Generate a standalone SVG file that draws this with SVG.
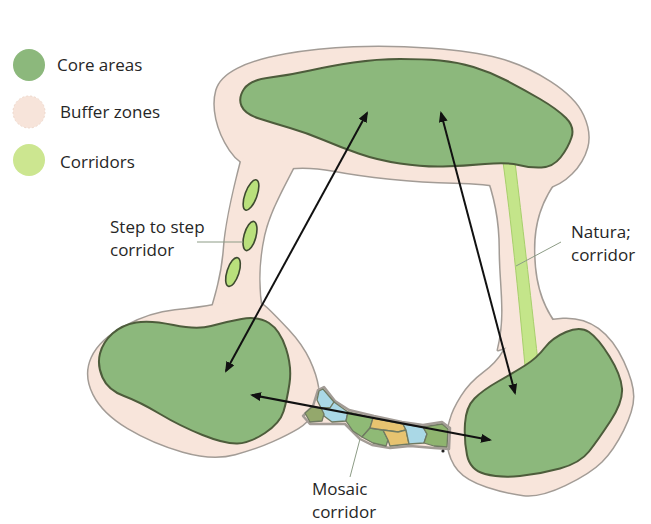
<svg xmlns="http://www.w3.org/2000/svg" width="651" height="524" viewBox="0 0 651 524">
<style>
.buf-s{fill:none;stroke:#a39c96;stroke-width:3;stroke-linejoin:round}
.buf-f{fill:#f8e5db;stroke:none}
.core{fill:#8cb87c;stroke:#4d5c3b;stroke-width:2;stroke-linejoin:round}
.oval{fill:#b9e07c;stroke:#3e4a30;stroke-width:1.6}
.cell{stroke:#6f7a62;stroke-width:1.3;stroke-linejoin:round}
.lbl{font-family:"Open Sans","DejaVu Sans",sans-serif;font-size:17px;fill:#262626}
.lead{stroke:#8d9c86;stroke-width:1;fill:none}
.conn{stroke:#111111;stroke-width:2;fill:none;marker-start:url(#ah);marker-end:url(#ah)}
</style>
<defs>
<marker id="ah" viewBox="0 0 11 9" refX="9" refY="4.5" markerWidth="11" markerHeight="9" markerUnits="userSpaceOnUse" orient="auto-start-reverse">
<path d="M0,0 L11,4.5 L0,9 Z" fill="#111111"/>
</marker>
<path id="bufTop" d="M 216.5,90.5 Q 220,78 237.5,69 Q 255,60 286,54.5 Q 317,49 353.5,47.5 Q 390,46 431.5,49 Q 473,52 499,59 Q 525,66 550,82 Q 575,98 583,115.5 Q 591,133 587,147.5 Q 583,162 571.5,173.5 Q 560,185 545,188.5 Q 530,192 507.5,187.5 Q 485,183 454,182.5 Q 423,182 390,178.5 Q 357,175 333.5,170.5 Q 310,166 290,168 Q 270,170 255,167.5 Q 240,165 230,150 Q 220,135 216.5,119 Q 213,103 216.5,90.5 Z"/>
<path id="bufStep" d="M 242,158 C 235,185 226,220 224,250 C 222,275 216,295 210,315 L 262,312 C 258,290 258,262 264,235 C 270,210 282,190 296,162 Z"/>
<path id="bufLeft" d="M 215,305 Q 230,302 244,301 Q 258,300 266.5,308 Q 275,316 288.5,330.5 Q 302,345 309,360 Q 316,375 318,388 Q 320,398 315,410 Q 308,422 298,428 Q 288,434 272.5,441 Q 257,448 235,454 Q 213,460 183,451.5 Q 153,443 128,428 Q 103,413 93.5,394 Q 84,375 92,357.5 Q 100,340 125,326.5 Q 150,313 175,310.5 Q 200,308 215,305 Z"/>
<path id="bufNat" d="M 485,170 C 495,195 500,220 500,250 C 500,285 507,315 498,350 L 560,330 C 545,312 535,290 534,255 C 533,225 540,200 560,175 Z"/>
<path id="bufRight" d="M 526.5,330 Q 543,320 563,319 Q 583,318 598,329 Q 613,340 623,361.5 Q 633,383 633,396.5 Q 633,410 623,430 Q 613,450 601.5,461.5 Q 590,473 565,485 Q 540,497 523.5,495 Q 507,493 487,486.5 Q 467,480 458.5,470 Q 450,460 448,445 Q 447,430 450.5,420 Q 453,410 461.5,396.5 Q 470,383 483.5,373 Q 497,363 503.5,351.5 Q 510,340 526.5,330 Z"/>
</defs>

<rect x="0" y="0" width="651" height="524" fill="#ffffff"/>

<g id="buffer-zones">
<use href="#bufTop" class="buf-s"/>
<use href="#bufStep" class="buf-s"/>
<use href="#bufLeft" class="buf-s"/>
<use href="#bufNat" class="buf-s"/>
<use href="#bufRight" class="buf-s"/>
<use href="#bufTop" class="buf-f"/>
<use href="#bufStep" class="buf-f"/>
<use href="#bufLeft" class="buf-f"/>
<use href="#bufNat" class="buf-f"/>
<use href="#bufRight" class="buf-f"/>
</g>

<g id="corridor-natural">
<path d="M 503,162 C 511,220 518,290 525,366 L 538,362 C 530,290 522,220 515,162 Z" fill="#c4e58a" stroke="#a8cf6c" stroke-width="1"/>
</g>

<g id="corridor-step">
<ellipse cx="251" cy="195" rx="6" ry="16" transform="rotate(20 251 195)" class="oval"/>
<ellipse cx="250" cy="236" rx="6" ry="15" transform="rotate(15 250 236)" class="oval"/>
<ellipse cx="233" cy="272" rx="6" ry="15" transform="rotate(18 233 272)" class="oval"/>
</g>

<g id="corridor-mosaic">
<path d="M 318,390 L 324,387 L 335,401 L 349,410 L 374,416 L 402,422 L 423,425 L 442,422 L 450,428 L 449,449 L 434,448 L 410,446 L 390,448 L 372,445 L 360,439 L 345,424 L 330,424 L 310,424 L 303,416 L 313,406 Z" fill="#f8e5db" stroke="#a39c96" stroke-width="2.5" stroke-linejoin="round"/>
<path class="cell" fill="#aad8e6" d="M 319,391 L 323,389 L 334,402 L 330,408 L 321,408 L 317,400 Z"/>
<path class="cell" fill="#aad8e6" d="M 321,408 L 330,408 L 334,402 L 348,412 L 346,421 L 332,422 L 324,416 Z"/>
<path class="cell" fill="#94a86c" d="M 305,413 L 312,407 L 321,408 L 324,414 L 322,421 L 310,422 Z"/>
<path class="cell" fill="#8fba76" d="M 346,421 L 348,412 L 373,418 L 370,428 L 362,437 L 353,431 Z"/>
<path class="cell" fill="#8fba76" d="M 362,437 L 370,428 L 383,430 L 388,440 L 386,446 L 373,443 Z"/>
<path class="cell" fill="#e7c370" d="M 373,418 L 403,424 L 406,430 L 398,432 L 383,430 L 370,428 Z"/>
<path class="cell" fill="#e7c370" d="M 383,430 L 398,432 L 406,430 L 409,444 L 390,446 L 388,440 Z"/>
<path class="cell" fill="#aad8e6" d="M 403,424 L 423,427 L 427,434 L 424,443 L 409,444 L 406,430 Z"/>
<path class="cell" fill="#8fb46f" d="M 423,427 L 442,424 L 448,429 L 447,447 L 434,446 L 424,443 L 427,434 Z"/>
<circle cx="443" cy="451" r="1.6" fill="#222222"/>
</g>

<g id="core-top">
<path class="core" d="M 244,89 Q 250,80 270,77.5 Q 290,75 310,70.5 Q 330,66 353.5,62.5 Q 377,59 400,59 Q 423,59 440,60.5 Q 457,62 473.5,67 Q 490,72 506.5,80.5 Q 523,89 540,99 Q 557,109 566,118 Q 575,127 571.5,137.5 Q 568,148 560.5,157.5 Q 553,167 541.5,167.5 Q 530,168 518.5,165 Q 507,162 485,164 Q 463,166 443,166.5 Q 423,167 400,163.5 Q 377,160 358.5,153.5 Q 340,147 323.5,140 Q 307,133 290,128 Q 273,123 259,118.5 Q 245,114 241.5,106 Q 238,98 244,89 Z"/>
</g>

<g id="core-left">
<path class="core" d="M 100,353.5 Q 103,342 112.5,333.5 Q 122,325 136,322.5 Q 150,320 173.5,325 Q 197,330 211,326 Q 225,322 241.5,319 Q 258,316 269,323 Q 280,330 286,348.5 Q 292,367 289.5,383.5 Q 287,400 283.5,411.5 Q 280,423 265,433 Q 250,443 237.5,443.5 Q 225,444 202.5,435 Q 180,426 160,414 Q 140,402 124,396 Q 108,390 102.5,377.5 Q 97,365 100,353.5 Z"/>
</g>

<g id="core-right">
<path class="core" d="M 544.5,348 Q 552,338 566,332 Q 580,326 589,332 Q 598,338 609.5,356.5 Q 621,375 622,388.5 Q 623,402 610.5,421 Q 598,440 589,451.5 Q 580,463 560,468.5 Q 540,474 520,476 Q 500,478 485,474 Q 470,470 467,455 Q 464,440 465,423.5 Q 466,407 474.5,398.5 Q 483,390 498,381.5 Q 513,373 525,365.5 Q 537,358 544.5,348 Z"/>
</g>

<g id="connectors">
<line class="conn" x1="367" y1="113" x2="226" y2="371"/>
<line class="conn" x1="441" y1="113" x2="515" y2="393"/>
<line class="conn" x1="252" y1="395" x2="490" y2="440"/>
</g>

<g id="leaders">
<line class="lead" x1="197" y1="242" x2="243" y2="242"/>
<line class="lead" x1="561" y1="242" x2="516" y2="266"/>
<line class="lead" x1="360" y1="439" x2="350" y2="477"/>
</g>

<g id="legend">
<circle cx="29" cy="65" r="16" fill="#8cb87c"/>
<circle cx="29" cy="112" r="16" fill="#f7e4da" stroke="#efd9cd" stroke-width="1" stroke-dasharray="2 2"/>
<circle cx="29" cy="160" r="16" fill="#cce690"/>
<text class="lbl" x="57" y="71">Core areas</text>
<text class="lbl" x="60" y="118">Buffer zones</text>
<text class="lbl" x="60" y="168">Corridors</text>
</g>

<g id="labels">
<text class="lbl" x="110" y="233">Step to step</text>
<text class="lbl" x="110" y="256">corridor</text>
<text class="lbl" x="571" y="238">Natura;</text>
<text class="lbl" x="571" y="261">corridor</text>
<text class="lbl" x="312" y="495">Mosaic</text>
<text class="lbl" x="312" y="518">corridor</text>
</g>
</svg>
